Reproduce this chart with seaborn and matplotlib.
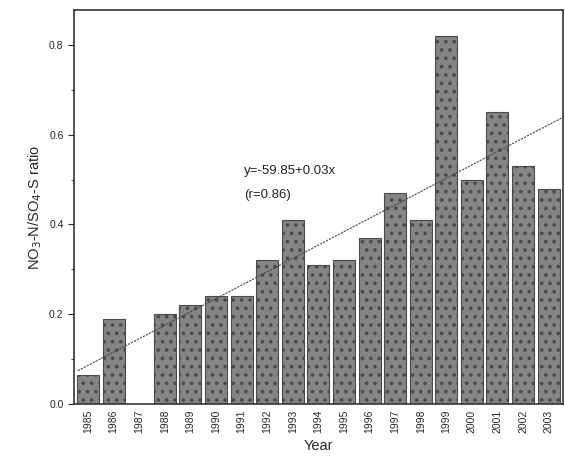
import matplotlib
matplotlib.use('Agg')
import matplotlib.pyplot as plt
import seaborn as sns
import numpy as np
import pandas as pd

years = [1985, 1986, 1987, 1988, 1989, 1990, 1991, 1992, 1993, 1994,
         1995, 1996, 1997, 1998, 1999, 2000, 2001, 2002, 2003]
ratio = [0.065, 0.19, np.nan, 0.20, 0.22, 0.24, 0.24, 0.32, 0.41, 0.31,
         0.32, 0.37, 0.47, 0.41, 0.82, 0.50, 0.65, 0.53, 0.48]

# regression line end points
trend_x = [1984.6, 2003.5]
trend_y = [0.074, 0.637]

sns.set_style("ticks")
plt.rcParams['font.family'] = ['Liberation Sans', 'DejaVu Sans']
plt.rcParams['hatch.linewidth'] = 1.4

df = pd.DataFrame({'Year': years, 'ratio': ratio})

fig = plt.figure(figsize=(5.65, 4.73), dpi=100)
ax = fig.add_axes([0.131, 0.146, 0.865, 0.833])

sns.barplot(data=df, x='Year', y='ratio', native_scale=True, width=0.86,
            color='#858585', saturation=1, edgecolor='#4a4a4a',
            linewidth=0.8, hatch='..', ax=ax)

ax.plot(trend_x, trend_y, color='#444444', lw=0.8, ls=(0, (2, 1)))

ax.text(1991.1, 0.52, 'y=-59.85+0.03x', fontsize=9.5, color='#222222', va='center')
ax.text(1991.1, 0.465, '(r=0.86)', fontsize=9.5, color='#222222', va='center')

ax.set_xlim(1984.45, 2003.55)
ax.set_ylim(0, 0.878)
ax.set_yticks([0.0, 0.2, 0.4, 0.6, 0.8])
ax.set_yticks([0.1, 0.3, 0.5, 0.7], minor=True)
ax.set_xticks(years)
ax.set_xticklabels([str(y) for y in years], rotation=90, fontsize=7.5)
ax.tick_params(axis='y', labelsize=7.5, direction='out', length=4)
ax.tick_params(axis='y', which='minor', length=2.5)
ax.tick_params(axis='x', length=0, pad=4)

ax.set_xlabel('Year', fontsize=10.5)
ax.set_ylabel('NO$_3$-N/SO$_4$-S ratio', fontsize=10.5)

for s in ax.spines.values():
    s.set_visible(True)
    s.set_linewidth(1.2)
    s.set_color('#333333')

fig.savefig('out.png', dpi=100)
